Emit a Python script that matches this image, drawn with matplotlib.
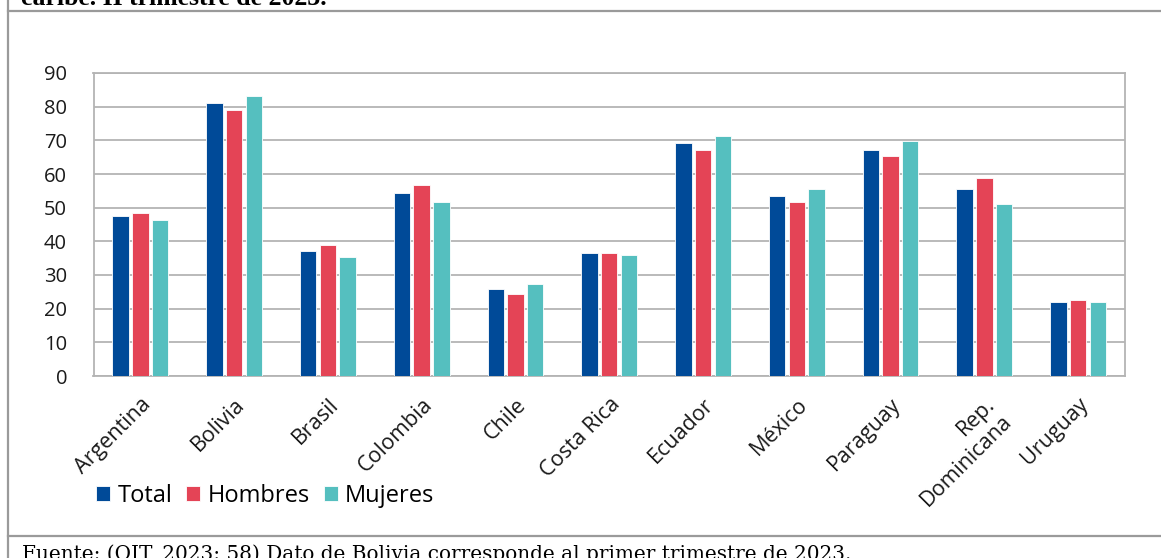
import matplotlib
matplotlib.use("Agg")
import matplotlib.pyplot as plt
import numpy as np
from matplotlib.lines import Line2D

categories = ["Argentina", "Bolivia", "Brasil", "Colombia", "Chile", "Costa Rica",
              "Ecuador", "México", "Paraguay", "Rep.\nDominicana", "Uruguay"]
total = [47.5, 81.0, 37.1, 54.4, 25.7, 36.6, 69.1, 53.4, 67.0, 55.5, 21.9]
hombres = [48.5, 78.9, 38.8, 56.6, 24.5, 36.6, 67.0, 51.7, 65.2, 58.8, 22.6]
mujeres = [46.3, 83.3, 35.4, 51.7, 27.3, 36.0, 71.2, 55.5, 69.7, 51.2, 21.9]
series_names = ["Total", "Hombres", "Mujeres"]
colors = ["#004A98", "#E44456", "#55BFBF"]
yticks = [0, 10, 20, 30, 40, 50, 60, 70, 80, 90]

W, H = 1161, 558
fig = plt.figure(figsize=(W / 100, H / 100), dpi=100)
plt.rcParams['font.family'] = ['Open Sans', 'DejaVu Sans']

ax = fig.add_axes([93.5 / W, 1 - 376 / H, (1125 - 93.5) / W, (376 - 73) / H])
x = np.arange(len(categories))
bw = 0.175
off = 0.21
for i, (vals, name, c) in enumerate(zip([total, hombres, mujeres], series_names, colors)):
    ax.bar(x + (i - 1) * off, vals, width=bw, color=c, edgecolor="white",
           linewidth=0.6, label=name, zorder=3)

ax.set_xlim(-0.5, len(categories) - 0.5)
ax.set_ylim(0, 90)
ax.set_yticks(yticks)
ax.set_yticklabels([str(v) for v in yticks], fontsize=14.5, color="#1a1a1a")
ax.tick_params(axis="y", length=0, pad=19)
ax.set_xticks(x)
ax.set_xticklabels(categories, rotation=45, ha="right", va="top",
                   rotation_mode="anchor", fontsize=15.5, color="#1a1a1a",
                   multialignment="right")
ax.tick_params(axis="x", length=0, pad=13)
ax.grid(axis="y", color="#b4b4b4", linewidth=1.3, zorder=0)
for s in ax.spines.values():
    s.set_color("#b4b4b4")
    s.set_linewidth(1.3)

leg = fig.legend(loc="lower left", bbox_to_anchor=(96 / W, 1 - 508 / H), ncol=3,
                 frameon=False, fontsize=17, handlelength=0.6, handleheight=0.6,
                 handletextpad=0.3, columnspacing=0.6, borderpad=0, borderaxespad=0)

# outer frame lines
fc = "#9a9a9a"
fig.add_artist(Line2D([8 / W, 8 / W], [0, 1], transform=fig.transFigure, color=fc, lw=1.6))
fig.add_artist(Line2D([8 / W, 1], [1 - 11 / H, 1 - 11 / H], transform=fig.transFigure, color=fc, lw=1.6))
fig.add_artist(Line2D([8 / W, 1], [1 - 535.5 / H, 1 - 535.5 / H], transform=fig.transFigure, color=fc, lw=1.6))

fig.text(21 / W, 1 - 5 / H, "caribe. II trimestre de 2023.", family="Liberation Serif",
         fontweight="bold", fontsize=18.5, va="baseline", ha="left", color="black")
fig.text(22 / W, 1 - 560 / H, "Fuente: (OIT, 2023: 58) Dato de Bolivia corresponde al primer trimestre de 2023.",
         family="DejaVu Serif", fontsize=14.4, va="baseline", ha="left", color="black")

fig.savefig("out.png", dpi=100)
